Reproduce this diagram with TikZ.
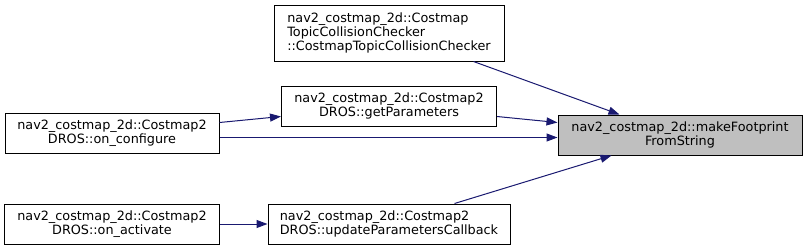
\documentclass[tikz,border=0pt]{standalone}
\usepackage{fontspec}
\setmainfont{DejaVu Sans}
\usetikzlibrary{arrows.meta,calc}
\definecolor{edgeblue}{HTML}{191970}
\definecolor{hlgray}{HTML}{BFBFBF}
\tikzset{
  fnbox/.style={draw=black, line width=1pt, fill=white, inner sep=0pt,
    minimum height=40pt, font=\fontsize{12.8}{13.6}\selectfont},
  callarrow/.style={draw=edgeblue, line width=1pt,
    -{Triangle[length=11pt,width=8pt]}}
}
\begin{document}
\begin{tikzpicture}[x=1pt,y=-1pt]
\useasboundingbox (0,0) rectangle (807,250);
\node[fnbox, minimum width=214pt, align=center] (conf) at (112,133) {nav2\_costmap\_2d::Costmap2\\DROS::on\_configure};
\node[fnbox, minimum width=230pt, minimum height=56pt, align=left] (ctcc) at (389,33) {nav2\_costmap\_2d::Costmap\\TopicCollisionChecker\\::CostmapTopicCollisionChecker};
\node[fnbox, minimum width=215pt, align=center] (getp) at (389,106) {nav2\_costmap\_2d::Costmap2\\DROS::getParameters};
\node[fnbox, minimum width=244pt, fill=hlgray, align=center] (make) at (680,135) {nav2\_costmap\_2d::makeFootprint\\FromString};
\node[fnbox, minimum width=215pt, align=center] (act) at (112,224) {nav2\_costmap\_2d::Costmap2\\DROS::on\_activate};
\node[fnbox, minimum width=242pt, align=left] (upd) at (389,224) {nav2\_costmap\_2d::Costmap2\\DROS::updateParametersCallback};

\draw[callarrow] ($(ctcc.south west)+(200,0)$) -- ($(make.north west)+(62,0)$);
\draw[callarrow] ($(getp.north east)+(0,31)$) -- ($(make.north west)+(0,8)$);
\draw[callarrow] ($(conf.north east)+(0,25)$) -- ($(make.north west)+(0,23)$);
\draw[callarrow] ($(upd.north west)+(187,0)$) -- ($(make.south west)+(54,0)$);
\draw[callarrow] ($(conf.north east)+(0,10)$) -- ($(getp.north west)+(0,31)$);
\draw[callarrow] (act.east) -- (upd.west);
\end{tikzpicture}
\end{document}
